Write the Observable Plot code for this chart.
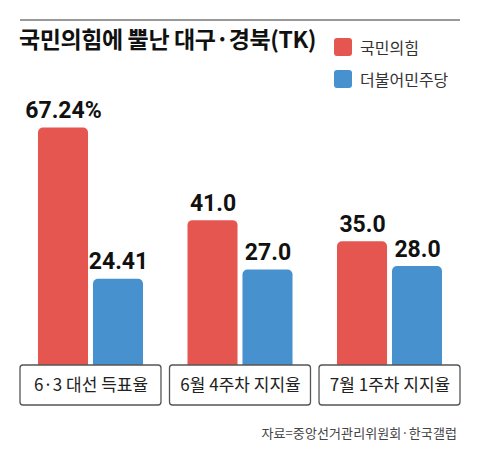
<!DOCTYPE html>
<html>
<head>
<meta charset="utf-8">
<script src="https://cdn.jsdelivr.net/npm/d3@7"></script>
<script src="https://cdn.jsdelivr.net/npm/@observablehq/plot@0.6"></script>
<style>
  body { margin: 0; background: #fff; font-family: "Noto Sans CJK KR", sans-serif; }
  #wrap { position: relative; width: 480px; height: 464px; overflow: hidden; }
  #topline { position: absolute; left: 20px; top: 19px; width: 440px; height: 2px; background: #999; }
  #title { position: absolute; left: 19px; top: 21px; font-size: 23px; font-weight: 700; color: #111; letter-spacing: -0.4px; white-space: nowrap; }
  #legend { position: absolute; left: 334px; top: 31px; }
  .item { display: flex; align-items: center; height: 32px; font-size: 16px; color: #333; white-space: nowrap; }
  .sw { width: 18px; height: 18px; border-radius: 3px; margin-right: 8px; }
  #source { position: absolute; right: 23px; top: 423px; font-size: 13px; color: #444; letter-spacing: 0.1px; white-space: nowrap; }
  #chart { position: absolute; left: 0; top: 0; }
</style>
</head>
<body>
<div id="wrap">
  <div id="chart"></div>
  <div id="topline"></div>
  <div id="title">국민의힘에 뿔난 대구·경북(TK)</div>
  <div id="legend"></div>
  <div id="source">자료=중앙선거관리위원회·한국갤럽</div>
</div>
<script>
// 데이터
const categories = ["6·3 대선 득표율", "6월 4주차 지지율", "7월 1주차 지지율"];
const parties = ["국민의힘", "더불어민주당"];
const ppp = [67.24, 41.0, 35.0];   // 국민의힘
const dem = [24.41, 27.0, 28.0];   // 더불어민주당
const valueLabels = [["67.24%", "24.41"], ["41.0", "27.0"], ["35.0", "28.0"]];
const colors = ["#E55651", "#4891CF"];

const data = [];
categories.forEach((c, i) => {
  data.push({ cat: c, party: parties[0], value: ppp[i], label: valueLabels[i][0] });
  data.push({ cat: c, party: parties[1], value: dem[i], label: valueLabels[i][1] });
});

// 범례
d3.select("#legend").selectAll("div")
  .data(parties)
  .join("div")
  .attr("class", "item")
  .html((d, i) => `<div class="sw" style="background:${colors[i]}"></div>${d}`);

const chart = Plot.plot({
  width: 480,
  height: 464,
  marginTop: 100,
  marginBottom: 99,
  marginLeft: 20,
  marginRight: 20,
  style: { fontFamily: "'Noto Sans CJK KR', sans-serif", background: "transparent" },
  fx: { domain: categories, paddingInner: 0.057, paddingOuter: 0, round: false, axis: null, label: null },
  x: { domain: parties, paddingInner: 0.09, paddingOuter: 0.327, round: false, axis: null },
  y: { domain: [0, 75], axis: null },
  color: { domain: parties, range: colors },
  marks: [
    Plot.barY(data, {
      fx: "cat", x: "party", y: "value",
      fill: "party", rx: 5, insetBottom: -6
    }),
    // 항목 박스
    Plot.rect(categories, {
      fx: d => d, y1: 0, y2: 0, insetBottom: -40,
      fill: "white", stroke: "#555", strokeWidth: 1.3, rx: 3
    }),
    Plot.text(categories, {
      fx: d => d, text: d => d, y: 0, dy: 20,
      frameAnchor: "middle", lineAnchor: "middle",
      fontSize: 17, fill: "#222"
    }),
    // 값 라벨
    Plot.text(data, {
      fx: "cat", x: "party", y: "value", text: "label",
      dy: -10, lineAnchor: "bottom",
      fontSize: 23, fontWeight: 700, fill: "#111",
      fontFamily: "Roboto, sans-serif",
      ariaLabel: "value-label"
    })
  ]
});

// 숫자 라벨을 좁게 (condensed 느낌)
d3.select(chart).selectAll('g[aria-label="value-label"] text').each(function () {
  const t = d3.select(this);
  const x = +t.attr("x") || 0, y = +t.attr("y") || 0;
  const tr = t.attr("transform") || "";
  t.attr("x", null).attr("y", null)
    .attr("transform", `${tr} translate(${x},${y}) scale(0.84,1)`);
});

d3.select("#chart").append(() => chart);
</script>
</body>
</html>
